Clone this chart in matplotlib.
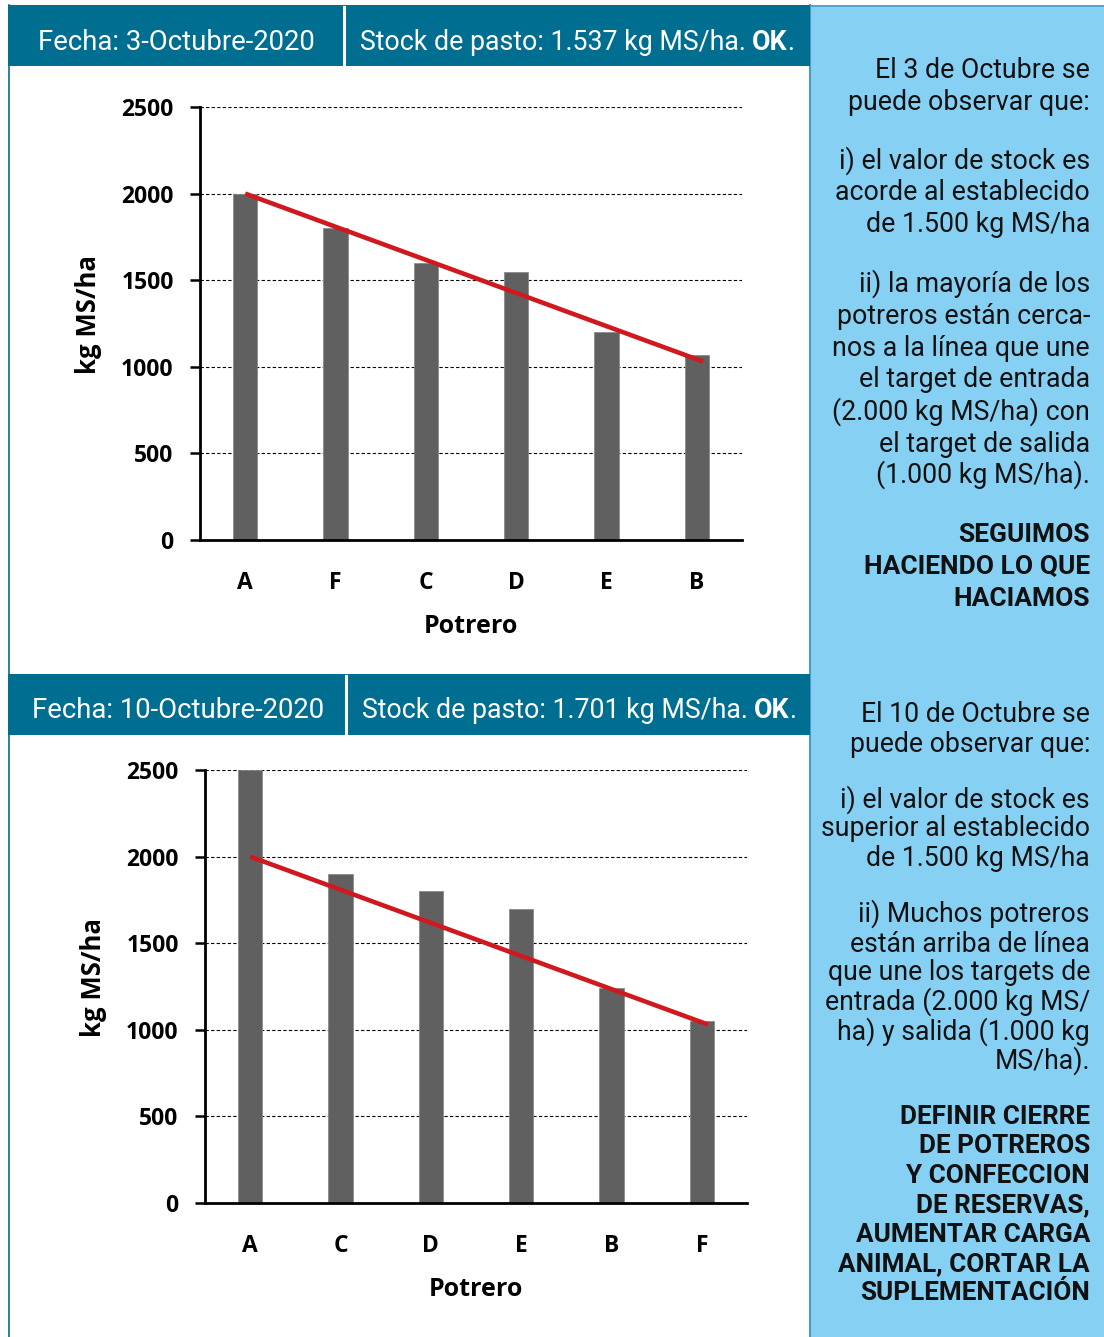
import matplotlib
matplotlib.use("Agg")
import matplotlib.pyplot as plt
from matplotlib.patches import Rectangle
from matplotlib.lines import Line2D

# ---- data ----
potreros_oct3 = ["A", "F", "C", "D", "E", "B"]
stock_oct3 = [2000, 1800, 1600, 1550, 1200, 1070]
potreros_oct10 = ["A", "C", "D", "E", "B", "F"]
stock_oct10 = [2500, 1900, 1800, 1700, 1240, 1050]
# target line: entrada (first paddock) to salida (last paddock)
target_x = [0, 5.07]
target_y = [2000, 1030]
y_ticks = [0, 500, 1000, 1500, 2000, 2500]

header_date = ["Fecha: 3-Octubre-2020", "Fecha: 10-Octubre-2020"]
header_stock = ["Stock de pasto: 1.537 kg MS/ha. ", "Stock de pasto: 1.701 kg MS/ha. "]

notes_oct3 = [
    ("El 3 de Octubre se", 70, False), ("puede observar que:", 102, False),
    ("i) el valor de stock es", 160, False), ("acorde al establecido", 192, False),
    ("de 1.500 kg MS/ha", 224, False),
    ("ii) la mayoría de los", 283, False), ("potreros están cerca-", 315, False),
    ("nos a la línea que une", 347, False), ("el target de entrada", 379, False),
    ("(2.000 kg MS/ha) con", 411, False), ("el target de salida", 443, False),
    ("(1.000 kg MS/ha).", 474, False),
    ("SEGUIMOS", 534, True), ("HACIENDO LO QUE", 566, True), ("HACIAMOS", 598, True),
]
notes_oct10 = [
    ("El 10 de Octubre se", 713, False), ("puede observar que:", 743, False),
    ("i) el valor de stock es", 799, False), ("superior al establecido", 828, False),
    ("de 1.500 kg MS/ha", 857, False),
    ("ii) Muchos potreros", 913, False), ("están arriba de línea", 943, False),
    ("que une los targets de", 972, False), ("entrada (2.000 kg MS/", 1001, False),
    ("ha) y salida (1.000 kg", 1031, False), ("MS/ha).", 1060, False),
    ("DEFINIR CIERRE", 1116, True), ("DE POTREROS", 1145, True),
    ("Y CONFECCION", 1175, True), ("DE RESERVAS,", 1204, True),
    ("AUMENTAR CARGA", 1234, True), ("ANIMAL, CORTAR LA", 1263, True),
    ("SUPLEMENTACIÓN", 1292, True),
]

W, H = 1104, 1337
TEAL = "#006E91"
SKY = "#86D0F4"
BAR = "#606060"
RED = "#D0191E"
CHART_FONT = "Open Sans"
TEXT_FONT = "Roboto"

fig = plt.figure(figsize=(W / 100, H / 100), dpi=100)
fig.patch.set_facecolor("white")


def fx(px):
    return px / W


def fy(py):
    return 1 - py / H


# background panels and header bands
fig.add_artist(Rectangle((fx(810), 0), fx(W - 810), fy(5), transform=fig.transFigure,
                         facecolor=SKY, edgecolor="none", zorder=0))
fig.add_artist(Line2D([fx(810), fx(810)], [0, fy(5)], transform=fig.transFigure,
                      color="#4A9CC4", lw=1.5, zorder=1))
fig.add_artist(Line2D([fx(810), fx(W)], [fy(5.5), fy(5.5)], transform=fig.transFigure,
                      color="#4A9CC4", lw=1.2, zorder=1))
fig.add_artist(Line2D([fx(8.5), fx(8.5)], [0, fy(5)], transform=fig.transFigure,
                      color=TEAL, lw=1.2, zorder=1))

for top, bot, div in [(5, 66, 344), (674, 735, 346)]:
    fig.add_artist(Rectangle((fx(8), fy(bot)), fx(810 - 8), fy(top) - fy(bot),
                             transform=fig.transFigure, facecolor=TEAL,
                             edgecolor="none", zorder=1))
    fig.add_artist(Line2D([fx(div), fx(div)], [fy(bot), fy(top + 2)],
                          transform=fig.transFigure, color="white", lw=2.2, zorder=2))

fig.canvas.draw()
renderer = fig.canvas.get_renderer()


def text_run(pieces, cx, cy, size):
    """Draw a sequence of (text, weight) pieces centered on (cx, cy) in pixels."""
    arts = []
    for s, wgt in pieces:
        t = fig.text(0, fy(cy), s, fontsize=size, family=TEXT_FONT, weight=wgt,
                     color="white", va="center", ha="left", zorder=3)
        arts.append(t)
    widths = [a.get_window_extent(renderer).width for a in arts]
    x = cx - sum(widths) / 2
    for a, w in zip(arts, widths):
        a.set_x(fx(x))
        x += w


text_run([(header_date[0], "normal")], 176, 42, 19.8)
text_run([(header_stock[0], "normal"), ("OK", "bold"), (".", "normal")], 577, 42, 19.3)
text_run([(header_date[1], "normal")], 178, 711, 19.8)
text_run([(header_stock[1], "normal"), ("OK", "bold"), (".", "normal")], 579, 711, 19.3)

# notes on the right panel
for lines, size, bsize in [(notes_oct3, 19.3, 19.0), (notes_oct10, 19.2, 18.8)]:
    for s, y, bold in lines:
        fig.text(fx(1090), fy(y + 1), s, fontsize=bsize if bold else size,
                 family=TEXT_FONT, weight="bold" if bold else "normal",
                 color="#111111", ha="right", va="center", zorder=3)


def bar_chart(left, top, bottom, cats, vals):
    ax = fig.add_axes([fx(left), fy(bottom), fx(742 - 200), fy(top) - fy(bottom)])
    ax.set_facecolor("none")
    xs = list(range(len(cats)))
    ax.bar(xs, vals, width=0.27, color=BAR, edgecolor="#8a8a8a", linewidth=0.6, zorder=2)
    ax.plot(target_x, target_y, color=RED, lw=3.3, solid_capstyle="butt", zorder=3)
    ax.set_xlim(-0.5, 5.5)
    ax.set_ylim(0, 2500)
    ax.set_yticks(y_ticks)
    ax.set_yticklabels([str(v) for v in y_ticks], fontsize=16.5, family=CHART_FONT,
                       weight="bold")
    ax.set_xticks(xs)
    ax.set_xticklabels(cats, fontsize=16.5, family=CHART_FONT, weight="bold")
    ax.tick_params(axis="y", length=7, width=1.8, direction="out", pad=12, color="black")
    ax.tick_params(axis="x", length=0, pad=22)
    for v in y_ticks[1:]:
        ax.axhline(v, color="black", lw=0.8, ls=(0, (3, 2)), zorder=1)
    for side in ("top", "right"):
        ax.spines[side].set_visible(False)
    ax.spines["left"].set_linewidth(2)
    ax.spines["bottom"].set_linewidth(2)
    ax.set_ylabel("kg MS/ha", fontsize=18.5, family=CHART_FONT, weight="bold")
    ax.yaxis.set_label_coords(-0.181, 0.52)
    ax.set_xlabel("Potrero", fontsize=18, family=CHART_FONT, weight="bold", labelpad=14)
    return ax


bar_chart(200, 107, 540, potreros_oct3, stock_oct3)
bar_chart(205, 770, 1203, potreros_oct10, stock_oct10)

fig.savefig("out.png", dpi=100, facecolor="white")
